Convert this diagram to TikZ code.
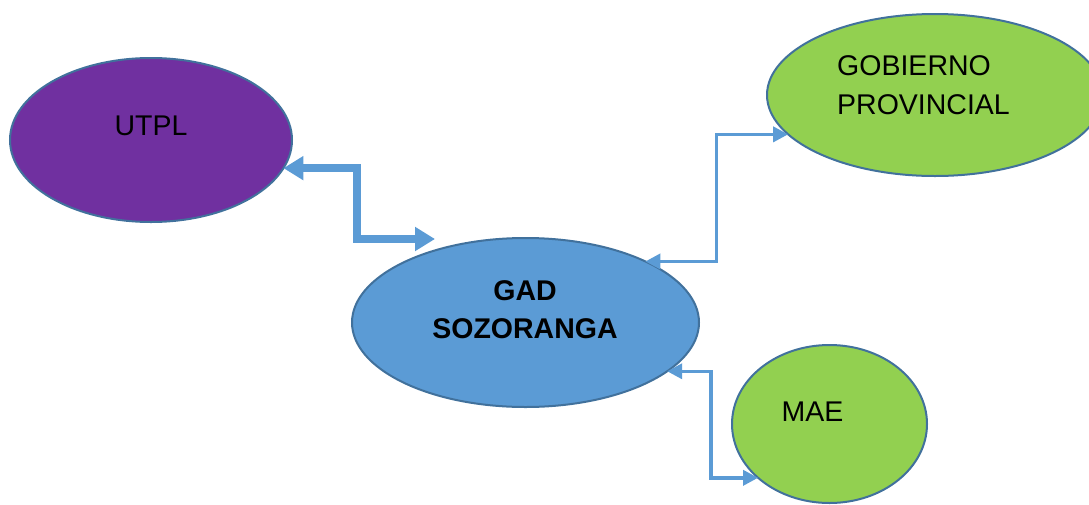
\documentclass[tikz,border=0pt]{standalone}
\usepackage{fontspec}
\setmainfont{Liberation Sans}
\usetikzlibrary{shapes.geometric,arrows.meta,calc}
\definecolor{utplpurple}{HTML}{7030A0}
\definecolor{leafgreen}{HTML}{92D050}
\definecolor{gadblue}{HTML}{5B9BD5}
\definecolor{edgeblue}{HTML}{41719C}
\definecolor{linkblue}{HTML}{5B9BD5}
\tikzset{
  oval/.style={ellipse, draw=edgeblue, line width=2pt, inner sep=0pt, outer sep=0pt},
  label/.style={inner sep=0pt, font=\fontsize{28.5}{38.5}\selectfont, text=black},
  thicklink/.style={draw=linkblue, line width=8pt,
    {Triangle[length=20pt,width=23pt]}-{Triangle[length=20pt,width=23pt]}},
  thinlink/.style={draw=linkblue, line width=3.5pt,
    {Triangle[length=15pt,width=15pt]}-{Triangle[length=15pt,width=15pt]}}
}
\begin{document}
\begin{tikzpicture}[x=1pt,y=-1pt]
\useasboundingbox (0,0) rectangle (1089,504);
\clip (0,0) rectangle (1089,504);
% ovals
\node[oval, fill=utplpurple, minimum width=282pt, minimum height=164pt] (utpl) at (151,140) {};
\node[oval, fill=leafgreen, minimum width=336pt, minimum height=162pt] (gob) at (935,95) {};
\node[oval, fill=gadblue, minimum width=347pt, minimum height=169pt] (gad) at (525.5,322.5) {};
\node[oval, fill=leafgreen, minimum width=195pt, minimum height=158pt] (mae) at (829.5,424) {};
% texts
\node[label, anchor=base] (utpltxt) at (151,135) {UTPL};
\node[label, anchor=base west, align=left] (gobtxt) at (837,114) {GOBIERNO\\PROVINCIAL};
\node[label, anchor=base, align=center, font=\fontsize{28.5}{38}\selectfont\bfseries] (gadtxt) at (525,338) {GAD\\SOZORANGA};
\node[label, anchor=base] (maetxt) at (812.5,421) {MAE};
% connectors
\coordinate (gadin) at ($(gad.center)+(-90.5,-83.5)$);
\path[thicklink] (utpl.-12) -- ++(74,0) |- (gadin);
\path[thinlink] (gad.27) -- ++(71,0) |- (gob.195);
\path[thinlink] (gad.-19.5) -- ++(44,0) |- (mae.217.4);
\end{tikzpicture}
\end{document}
